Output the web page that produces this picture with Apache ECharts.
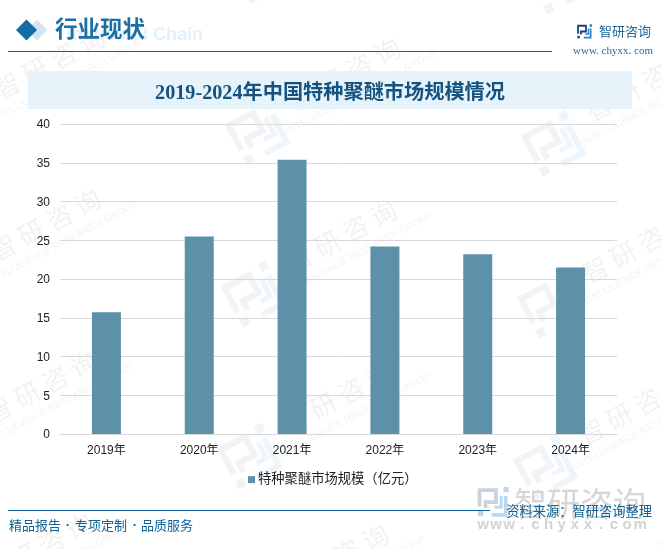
<!DOCTYPE html>
<html><head><meta charset="utf-8">
<style>html,body{margin:0;padding:0;background:#fff}#c{width:661px;height:549px}</style>
<script src="https://cdn.jsdelivr.net/npm/echarts@6/dist/echarts.min.js"></script>
</head><body><div id="c"></div>
<script>
const categories = ['2019年','2020年','2021年','2022年','2023年','2024年'];
const marketSize = [15.7, 25.5, 35.4, 24.2, 23.2, 21.5];
const yTicks = {min:0, max:40, interval:5};
const seriesName = '特种聚醚市场规模（亿元）';
const chartTitle = '2019-2024年中国特种聚醚市场规模情况';
const CJK = '"Noto Sans CJK SC"';
const SANS = '"Liberation Sans",' + CJK;
const SERIF = '"Liberation Serif",' + CJK;

function icon(x, y, scale, rot, c1, c2, z) {
  const ln = (pts, col, w) => ({type:'polyline', z:z, silent:true,
    shape:{points:pts}, style:{fill:null, stroke:col, lineWidth:w}});
  const sq = (a,b,s,col) => ({type:'rect', z:z, silent:true, shape:{x:a,y:b,width:s,height:s}, style:{fill:col}});
  return {type:'group', x:x, y:y, scaleX:scale, scaleY:scale, rotation:rot, z:z, silent:true, children:[
    ln([[-20,-16],[4,-16],[4,0],[-10,0],[-10,8]], c1, 5),
    ln([[-18,-16],[-18,6]], c1, 5),
    sq(-20,12,7,c1),
    sq(14,-20,7,c2),
    ln([[-2,17],[17,17],[17,-8]], c2, 5),
    ln([[11,-8],[11,7],[2,7]], c2, 4)
  ]};
}
const wm = [];
const R = 28*Math.PI/180;
for (let i=-1;i<=2;i++) for (let j=-1;j<=2;j++) {
  const ix = 258+296*i-4*j, iy = 133+11*i+162*j;
  wm.push(icon(ix, iy, 1.25, R, '#f1f3f7', '#eef6fb', -2));
  wm.push({type:'group', x:ix+87, y:iy+110, rotation:R, z:-2, silent:true, children:[
    {type:'text', z:-2, silent:true, style:{x:0,y:-8,text:'智 研 咨 询',fill:'#f2f2f2',align:'center',verticalAlign:'middle',
      font:'26px '+CJK}},
    {type:'text', z:-2, silent:true, style:{x:6,y:16,text:'INTELLIGENCE RESEARCH GROUP',fill:'#f3f3f3',align:'center',verticalAlign:'middle',
      font:'10px "Liberation Sans"'}}
  ]});
}
const txt = (x,y,text,fill,font,align,z) => ({type:'text', z:z===undefined?1:z, silent:true,
  style:{x:x,y:y,text:text,fill:fill,font:font,align:align||'left',verticalAlign:'middle'}});
const diamond = (cx,cy,r,fill) => ({type:'polygon', z:1, silent:true,
  shape:{points:[[cx-r,cy],[cx,cy-r],[cx+r,cy],[cx,cy+r]]}, style:{fill:fill}});
const hline = (x1,x2,y,col) => ({type:'rect', z:1, silent:true, shape:{x:x1,y:y,width:x2-x1,height:1}, style:{fill:col}});

const siteLetters = 'www.chyxx.com'.split('').map((ch,i) =>
  txt(483+i*13.1,525,ch,'#d2d2d2','bold 15px "Liberation Sans"','center',0));

const graphics = wm.concat(siteLetters, [
  {type:'rect', z:-1, silent:true, shape:{x:28,y:71,width:604,height:38}, style:{fill:'#e6f3fb'}},
  diamond(37,30,10.5,'#d3e5f0'),
  diamond(26.5,30,10.5,'#146ca6'),
  txt(67,35,'Industrial Chain','#e4f1fa','bold 18px "Liberation Sans"'),
  txt(55,31.5,'行业现状','#1b6fa5','bold 22.5px '+SERIF),
  hline(8,552,51,'#1a5f8c'),
  icon(584.5,31.5,0.36,0,'#1f3f7a','#2a86c8',1),
  txt(599,31,'智研咨询','#1f6496','13px '+CJK),
  txt(573,51,'www. chyxx. com','#2a6a9a','11px "Liberation Serif"'),
  icon(493,502,0.75,0,'#c9d2df','#bcd9ee',0),
  txt(514,503,'智研咨询','#d6d6d6','33px '+CJK,'left',0),
  hline(8,490,510,'#0f6296'),
  txt(9,525,'精品报告','#0f6296','13px '+CJK),
  txt(68,525,'·','#0f6296','bold 13px "Liberation Sans"','center'),
  txt(75,525,'专项定制','#0f6296','13px '+CJK),
  txt(135,525,'·','#0f6296','bold 13px "Liberation Sans"','center'),
  txt(141,525,'品质服务','#0f6296','13px '+CJK),
  txt(652,511,'资料来源：智研咨询整理','#0f6296','13.25px '+CJK,'right')
]);

const chart = echarts.init(document.getElementById('c'), null, {renderer:'canvas'});
chart.setOption({
  animation:false,
  backgroundColor:'#fff',
  title:{text:chartTitle, left:325, top:78, textAlign:'center',
    textStyle:{color:'#14527f', fontSize:20.2, fontWeight:'bold', fontFamily:SERIF, lineHeight:22}},
  grid:{left:60, right:44, top:124, bottom:115},
  legend:{top:468, left:243, itemWidth:7, itemHeight:7, icon:'rect', itemGap:4,
    textStyle:{color:'#222', fontSize:13.3, fontFamily:SANS, padding:[0,0,0,-2]}},
  xAxis:{type:'category', data:categories,
    axisLine:{lineStyle:{color:'#d9d9d9',width:1}}, axisTick:{show:false},
    axisLabel:{color:'#222', fontSize:12, fontFamily:SANS, margin:11}},
  yAxis:{type:'value', min:yTicks.min, max:yTicks.max, interval:yTicks.interval,
    axisLine:{show:false}, axisTick:{show:false},
    axisLabel:{color:'#222', fontSize:12, fontFamily:SANS, margin:10, verticalAlign:'bottom', padding:[0,0,-7,0]},
    splitLine:{lineStyle:{color:'#d9d9d9',width:1}}},
  series:[{name:seriesName, type:'bar', data:marketSize, barWidth:29,
    itemStyle:{color:'#5d91a9'}}],
  graphic:{elements:graphics}
});
</script></body></html>
